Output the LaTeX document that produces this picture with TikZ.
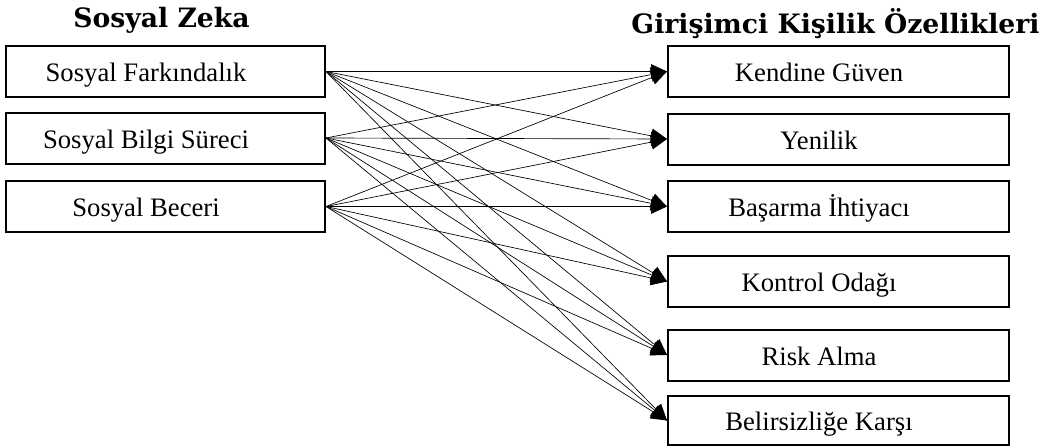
\documentclass[tikz,border=0pt]{standalone}
\usepackage{fontspec}
\setmainfont{Liberation Serif}
\newfontfamily\baslikfont{DejaVu Serif}
\usetikzlibrary{positioning,arrows.meta}

\begin{document}
\begin{tikzpicture}[x=0.75pt,y=-0.75pt,
	kutu/.style={draw=black,line width=1.5pt,minimum height=38.25pt,inner sep=0pt},
	sol/.style={kutu,minimum width=239.25pt},
	sag/.style={kutu,minimum width=255.75pt},
	yazi/.style={anchor=base,font=\fontsize{20}{22}\selectfont},
	baslik/.style={anchor=base,font=\baslikfont\bfseries\fontsize{20}{22}\selectfont},
	ok/.style={-{Triangle[length=12pt,width=11pt]},line width=0.5pt}]
		\useasboundingbox (0,0) rectangle (1056,446);
		\node[baslik] (sz) at (161.5,27) {Sosyal Zeka};
		\node[baslik] (gk) at (835.5,33) {Girişimci Kişilik Özellikleri};
		
		\node[sol] (sf) at (165.5,71.5) {};
		\node[sol] (sb) at (165.5,138) {};
		\node[sol] (sbc) at (165.5,206.5) {};
		
		\node[sag] (kg) at (838.5,71.5) {};
		\node[sag] (yn) at (838.5,139) {};
		\node[sag] (bi) at (838.5,206.5) {};
		\node[sag] (ko) at (838.5,281.5) {};
		\node[sag] (ra) at (838.5,355) {};
		\node[sag,minimum height=36.75pt] (bk) at (838.5,420.5) {};
		
		\node[yazi] (sft) at ([xshift=-14.6pt,yshift=-7.5pt]sf.center) {Sosyal Farkındalık};
		\node[yazi] (sbt) at ([xshift=-14.6pt,yshift=-7.5pt]sb.center) {Sosyal Bilgi Süreci};
		\node[yazi] (sbct) at ([xshift=-14.6pt,yshift=-7.5pt]sbc.center) {Sosyal Beceri};
		\node[yazi] (kgt) at ([xshift=-14.6pt,yshift=-7.5pt]kg.center) {Kendine Güven};
		\node[yazi] (ynt) at ([xshift=-14.6pt,yshift=-7.5pt]yn.center) {Yenilik};
		\node[yazi] (bit) at ([xshift=-14.6pt,yshift=-7.5pt]bi.center) {Başarma İhtiyacı};
		\node[yazi] (kot) at ([xshift=-14.6pt,yshift=-7.5pt]ko.center) {Kontrol Odağı};
		\node[yazi] (rat) at ([xshift=-14.6pt,yshift=-7.5pt]ra.center) {Risk Alma};
		\node[yazi] (bkt) at ([xshift=-14.6pt,yshift=-7.5pt]bk.center) {Belirsizliğe Karşı};
		
		\foreach \a in {sf,sb,sbc}
			\foreach \b in {kg,yn,bi,ko,ra,bk}
				\draw[ok] (\a.east)--(\b.west);
	\end{tikzpicture}
\end{document}
